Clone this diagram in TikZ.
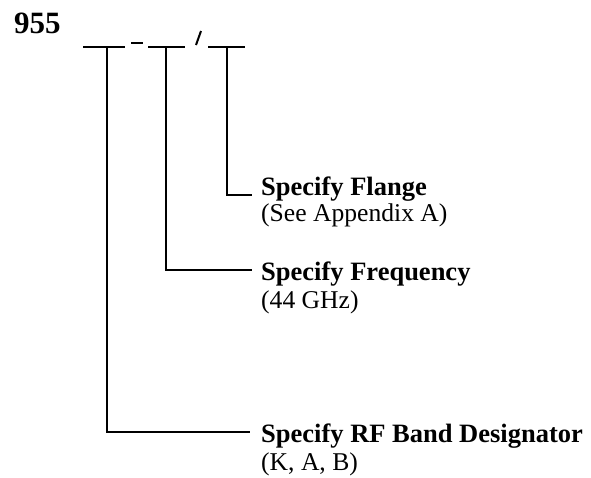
\documentclass[tikz,border=0pt]{standalone}
\usepackage{fontspec}
\setmainfont{Liberation Serif}
\usetikzlibrary{positioning}

\begin{document}
\begin{tikzpicture}[
	x=1pt,
	y=-1pt,
	line cap=butt,
	line join=miter,
	rule/.style={line width=2pt},
	head/.style={font=\bfseries\fontsize{26.5}{28}\selectfont,inner sep=0pt,anchor=base west},
	note/.style={font=\fontsize{25.6}{27}\selectfont,inner sep=0pt,anchor=base west}
	]
	\useasboundingbox (0,0) rectangle (591,477);
	
	% Part number prefix
	\node[font=\bfseries\fontsize{31}{33}\selectfont,inner sep=0pt,anchor=base west] (prefix) at (14,33) {955};
	
	%------------------------------
	% Blanks for the three fields
	%------------------------------
	\foreach \n/\a/\b in {1/83/125, 2/148/185, 3/208/245}{
		\coordinate (blank\n l) at (\a,47);
		\coordinate (blank\n r) at (\b,47);
		\draw[rule] (blank\n l) -- (blank\n r);
	}
	
	% Separators between the blanks
	\coordinate (dashl) at (131,43);
	\coordinate (dashr) at (143,43);
	\draw[rule] (dashl) -- (dashr);
	\coordinate (slashb) at (196,45);
	\coordinate (slasht) at (201,31);
	\draw[rule] (slashb) -- (slasht);
	
	%------------------------------
	% Field descriptions
	%------------------------------
	\node[head] (flange) at (261,195) {Specify Flange};
	\node[note] (flangenote) at (261,221) {(See Appendix A)};
	\node[head] (freq) at (261,280) {Specify Frequency};
	\node[note] (freqnote) at (261,308) {(44 GHz)};
	\node[head] (band) at (261,442) {Specify RF Band Designator};
	\node[note] (bandnote) at (261,470) {(K, A, B)};
	
	%------------------------------
	% Leaders from each blank down to its description
	%------------------------------
	\coordinate (stem1) at (107,47);
	\coordinate (stem2) at (166,47);
	\coordinate (stem3) at (227,47);
	\coordinate (bandtip) at (250,432);
	\coordinate (freqtip) at (252,270);
	\coordinate (flangetip) at (252,195);
	\draw[rule] (stem1) |- (bandtip);
	\draw[rule] (stem2) |- (freqtip);
	\draw[rule] (stem3) |- (flangetip);
\end{tikzpicture}
\end{document}
